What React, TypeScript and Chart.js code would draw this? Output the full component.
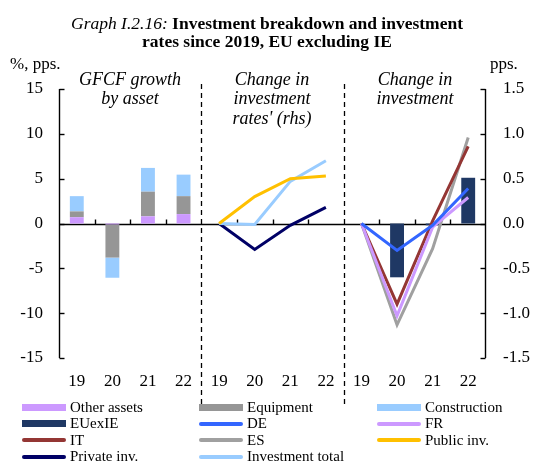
import React, { useEffect, useRef } from "react";
import { Chart, registerables } from "chart.js";

Chart.register(...registerables);

// ---------- DATA ----------
const categories = ["19", "20", "21", "22", "19", "20", "21", "22", "19", "20", "21", "22"];
const panelYears = ["19", "20", "21", "22"];

// Panel 1 (lhs, %): GFCF growth by asset (stacked contributions)
const otherAssets = [0.7, -0.1, 0.8, 1.05];
const equipment = [0.65, -3.7, 2.75, 2.0];
const construction = [1.7, -2.25, 2.65, 2.4];

// Panel 2 (rhs, pps): change in investment rates
const publicInv = [0, 0.3, 0.5, 0.53];
const privateInv = [0, -0.29, -0.02, 0.18];
const investmentTotal = [0, -0.01, 0.47, 0.7];

// Panel 3 (rhs, pps): change in investment
const euExIE = [0, -0.6, -0.02, 0.51];
const deValues = [0, -0.3, -0.02, 0.39];
const frValues = [0, -1.03, -0.04, 0.29];
const itValues = [0, -0.9, 0.03, 0.86];
const esValues = [0, -1.13, -0.28, 0.96];

const leftTicks = [-15, -10, -5, 0, 5, 10, 15];
const rightTicks = [-1.5, -1.0, -0.5, 0, 0.5, 1.0, 1.5];

// ---------- STYLE ----------
const SERIF = '"Liberation Serif", "Times New Roman", Times, serif';
const C = {
  other: "#CC99FF",
  equip: "#969696",
  constr: "#99CCFF",
  eu: "#1F3864",
  de: "#3366FF",
  fr: "#CC99FF",
  it: "#943634",
  es: "#A0A0A0",
  pub: "#FFC000",
  priv: "#000066",
  total: "#99CCFF",
};

function place(values: number[], panel: number): (number | null)[] {
  const out: (number | null)[] = categories.map(() => null);
  values.forEach((v, i) => {
    out[panel * panelYears.length + i] = v;
  });
  return out;
}

const BAR_PCT = 0.39;

function barDs(label: string, values: number[], panel: number, color: string, axis: string) {
  return {
    type: "bar" as const,
    label,
    data: place(values, panel),
    backgroundColor: color,
    borderWidth: 0,
    yAxisID: axis,
    barPercentage: BAR_PCT,
    categoryPercentage: 1,
    order: 2,
  };
}

function lineDs(label: string, values: number[], panel: number, color: string, order = 1) {
  return {
    type: "line" as const,
    label,
    data: place(values, panel),
    borderColor: color,
    backgroundColor: color,
    borderWidth: 3,
    pointRadius: 0,
    tension: 0,
    fill: false,
    spanGaps: false,
    yAxisID: "y1",
    order,
  };
}

const legendItems = [
  { label: "Other assets", color: C.other, kind: "bar" },
  { label: "Equipment", color: C.equip, kind: "bar" },
  { label: "Construction", color: C.constr, kind: "bar" },
  { label: "EUexIE", color: C.eu, kind: "bar" },
  { label: "DE", color: C.de, kind: "line" },
  { label: "FR", color: C.fr, kind: "line" },
  { label: "IT", color: C.it, kind: "line" },
  { label: "ES", color: C.es, kind: "line" },
  { label: "Public inv.", color: C.pub, kind: "line" },
  { label: "Private inv.", color: C.priv, kind: "line" },
  { label: "Investment total", color: C.total, kind: "line" },
];

const framePlugin = {
  id: "panelFrame",
  beforeDatasetsDraw(chart: any) {
    const { ctx, chartArea: a, scales } = chart;
    const x = scales.x;
    const y = scales.y;
    const y1 = scales.y1;
    const y0 = Math.round(y.getPixelForValue(0)) + 0.5;
    const L = Math.round(a.left) + 0.5;
    const R = Math.round(a.right) - 0.5;
    ctx.save();
    ctx.strokeStyle = "#000";
    ctx.lineWidth = 1.4;
    const seg = (x1: number, yA: number, x2: number, yB: number) => {
      ctx.beginPath();
      ctx.moveTo(x1, yA);
      ctx.lineTo(x2, yB);
      ctx.stroke();
    };
    seg(L, a.top, L, a.bottom);
    seg(R, a.top, R, a.bottom);
    leftTicks.forEach((v) => {
      const p = Math.round(y.getPixelForValue(v)) + 0.5;
      seg(L, p, L + 5, p);
    });
    rightTicks.forEach((v) => {
      const p = Math.round(y1.getPixelForValue(v)) + 0.5;
      seg(R - 5, p, R, p);
    });
    seg(L, y0, R, y0);
    for (let i = 1; i < categories.length; i++) {
      const bx = Math.round((x.getPixelForValue(i - 1) + x.getPixelForValue(i)) / 2) + 0.5;
      if (i % panelYears.length === 0) {
        ctx.save();
        ctx.lineWidth = 1.3;
        ctx.setLineDash([5, 4]);
        seg(bx, a.top - 5, bx, a.bottom + 46);
        ctx.restore();
      } else {
        seg(bx, y0, bx, y0 - 5);
      }
    }
    ctx.restore();
  },
};

export default function App() {
  const ref = useRef<HTMLCanvasElement | null>(null);

  useEffect(() => {
    document.body.style.margin = "0";
    const tickFont = { family: SERIF, size: 17 };
    const chart = new Chart(ref.current as HTMLCanvasElement, {
      type: "bar",
      data: {
        labels: categories,
        datasets: [
          barDs("Other assets", otherAssets, 0, C.other, "y"),
          barDs("Equipment", equipment, 0, C.equip, "y"),
          barDs("Construction", construction, 0, C.constr, "y"),
          barDs("EUexIE", euExIE, 2, C.eu, "y1"),
          lineDs("Public inv.", publicInv, 1, C.pub),
          lineDs("Investment total", investmentTotal, 1, C.total),
          lineDs("Private inv.", privateInv, 1, C.priv),
          lineDs("DE", deValues, 2, C.de),
          lineDs("FR", frValues, 2, C.fr),
          lineDs("IT", itValues, 2, C.it),
          lineDs("ES", esValues, 2, C.es),
        ] as any,
      },
      options: {
        responsive: false,
        animation: false,
        events: [],
        layout: { padding: { top: 89, left: 0, right: 0, bottom: 0 } },
        plugins: {
          legend: { display: false },
          tooltip: { enabled: false },
          title: { display: false },
        },
        scales: {
          x: {
            stacked: true,
            offset: true,
            grid: { display: false, drawTicks: false },
            border: { display: false },
            ticks: { font: tickFont, color: "#000", padding: 13, maxRotation: 0, autoSkip: false },
            afterFit: (s: any) => {
              s.height = 105;
            },
          },
          y: {
            position: "left",
            stacked: true,
            min: -15,
            max: 15,
            grid: { display: false, drawTicks: false },
            border: { display: false },
            ticks: { stepSize: 5, font: tickFont, color: "#000", padding: 16 },
            afterFit: (s: any) => {
              s.width = 59;
            },
          },
          y1: {
            position: "right",
            stacked: false,
            min: -1.5,
            max: 1.5,
            grid: { display: false, drawTicks: false },
            border: { display: false },
            ticks: {
              stepSize: 0.5,
              font: tickFont,
              color: "#000",
              padding: 17,
              callback: (v: any) => Number(v).toFixed(1),
            },
            afterFit: (s: any) => {
              s.width = 48;
            },
          },
        },
      } as any,
      plugins: [framePlugin],
    });
    return () => chart.destroy();
  }, []);

  const colX = [22, 199, 377];
  const rowY = [407, 423.5, 440, 456.7];

  const panelLabel = (cx: number, lines: string[]) => (
    <div
      style={{
        position: "absolute",
        left: cx - 90,
        width: 180,
        top: 69.5,
        textAlign: "center",
        fontStyle: "italic",
        fontSize: 18,
        lineHeight: "19.5px",
        whiteSpace: "nowrap",
      }}
    >
      {lines.map((l, i) => (
        <div key={i}>{l}</div>
      ))}
    </div>
  );

  return (
    <div
      style={{
        position: "relative",
        width: 534,
        height: 463,
        overflow: "hidden",
        background: "#fff",
        fontFamily: SERIF,
        color: "#000",
      }}
    >
      <canvas ref={ref} width={534} height={463} style={{ position: "absolute", left: 0, top: 0 }} />
      <div
        style={{
          position: "absolute",
          left: 0,
          top: 13.5,
          width: 534,
          textAlign: "center",
          fontSize: 17.5,
          lineHeight: "18.5px",
        }}
      >
        <div>
          <i>Graph I.2.16:</i> <b>Investment breakdown and investment</b>
        </div>
        <div>
          <b>rates since 2019, EU excluding IE</b>
        </div>
      </div>
      <div style={{ position: "absolute", left: 10, top: 56, fontSize: 17, lineHeight: "16px" }}>%, pps.</div>
      <div style={{ position: "absolute", left: 490, top: 56, fontSize: 17, lineHeight: "16px" }}>pps.</div>
      {panelLabel(130, ["GFCF growth", "by asset"])}
      {panelLabel(272, ["Change in", "investment", "rates' (rhs)"])}
      {panelLabel(415, ["Change in", "investment"])}
      {legendItems.map((it, i) => {
        const col = i % 3;
        const row = Math.floor(i / 3);
        return (
          <div
            key={it.label}
            style={{
              position: "absolute",
              left: colX[col],
              top: rowY[row] - 8.5,
              height: 17,
              display: "flex",
              alignItems: "center",
              whiteSpace: "nowrap",
            }}
          >
            <div
              style={{
                width: 44,
                height: it.kind === "bar" ? 7 : 4,
                borderRadius: it.kind === "bar" ? 0 : 2,
                background: it.color,
              }}
            />
            <span style={{ marginLeft: 4, fontSize: 15, lineHeight: "17px" }}>{it.label}</span>
          </div>
        );
      })}
    </div>
  );
}
